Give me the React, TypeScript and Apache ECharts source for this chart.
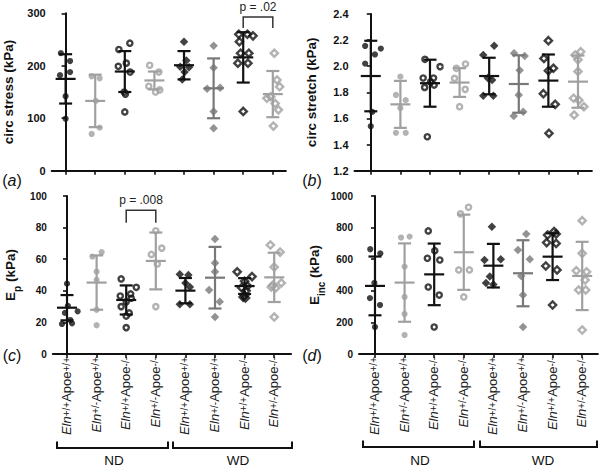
import React, { useEffect, useRef } from "react";
import * as echarts from "echarts";

const FONT = "'Liberation Sans', Arial, Helvetica, sans-serif";
const BLACK = "#111111";
const LIGHT = "#a0a0a0";
const DARK = "#787878";

// ---- categories ----
const elnGenotypes = ["+/+", "+/-", "+/+", "+/-", "+/+", "+/-", "+/+", "+/-"];
const apoeGenotypes = ["+/+", "+/+", "-/-", "-/-", "+/+", "+/+", "-/-", "-/-"];
const diets = ["ND", "WD"];

// ---- (a) circumferential stress, kPa ---- points are [value, horizontal jitter]
const stressMean = [175, 133, 189, 172, 201, 157, 216, 146];
const stressSD = [47, 50, 39, 17, 27, 57, 48, 44];
const stressPoints = [
  [[224, -0.16], [209, 0.15], [188, 0.15], [182, -0.19], [142, 0], [99, 0]],
  [[180, -0.12], [176, 0.15], [133, 0.02], [82, 0.15], [70, -0.12]],
  [[243, 0.17], [231, -0.2], [205, 0.05], [199, -0.22], [188, 0.18], [150, -0.02], [146, 0.02], [112, 0]],
  [[201, -0.16], [188, 0.15], [161, -0.19], [154, 0.18], [150, 0.04]],
  [[246, 0], [210, 0.08], [198, -0.13], [197, 0.17], [188, 0.02], [174, -0.06]],
  [[238, 0], [196, 0], [158, 0.22], [156, -0.22], [113, 0], [81, 0]],
  [[260, -0.15], [260, 0.14], [257, 0.33], [246, -0.13], [224, -0.09], [224, 0.19], [205, -0.18], [205, 0.16], [113, 0]],
  [[224, 0.05], [173, 0.14], [160, 0.23], [141, -0.07], [138, -0.2], [128, 0.08], [116, 0.19], [85, 0.02]],
];
const stressAxis = { min: 0, max: 300, interval: 100 };
const stressSig = { from: 6, to: 7, top: 293, drop: 272, label: "p = .02" };

// ---- (b) circumferential stretch ----
const stretchMean = [1.925, 1.708, 1.87, 1.875, 1.925, 1.864, 1.89, 1.882];
const stretchSD = [0.27, 0.18, 0.18, 0.11, 0.14, 0.22, 0.2, 0.2];
const stretchPoints = [
  [[2.155, -0.19], [2.135, 0.34], [2.09, 0.14], [2.02, -0.19], [1.65, 0.05], [1.54, 0]],
  [[1.92, 0], [1.78, -0.15], [1.74, 0.18], [1.68, 0], [1.49, -0.15], [1.49, 0.18]],
  [[2.053, -0.17], [1.997, 0.34], [1.91, -0.23], [1.91, 0.12], [1.88, 0.02], [1.856, 0.14], [1.838, -0.18], [1.46, -0.09]],
  [[2.017, 0.2], [1.984, -0.11], [1.907, -0.17], [1.823, 0.19], [1.69, 0]],
  [[2.157, 0.17], [2.086, -0.2], [1.91, -0.05], [1.894, 0.1], [1.774, -0.2], [1.774, 0.14]],
  [[2.099, -0.16], [2.078, 0.2], [1.97, 0.03], [1.78, 0], [1.652, 0.15], [1.619, -0.17]],
  [[2.196, 0], [2.06, -0.15], [1.984, 0.17], [1.966, 0], [1.79, -0.17], [1.708, 0.23], [1.486, 0.02]],
  [[2.111, 0.09], [2.086, -0.1], [2.05, 0], [1.96, 0], [1.755, -0.15], [1.74, 0.03], [1.69, 0.2], [1.626, -0.13]],
];
const stretchAxis = { min: 1.2, max: 2.4, interval: 0.2 };

// ---- (c) Ep, kPa ----
const epMean = [29.3, 45.2, 34.2, 58.9, 40.1, 48.3, 43, 48.5];
const epSD = [8, 17.2, 9.2, 18, 8, 19.5, 5, 15.6];
const epPoints = [
  [[44.5, 0], [30.5, 0.03], [27, 0.36], [26, -0.07], [21.5, 0.11], [19.4, 0.17], [19, -0.17]],
  [[64.4, 0.17], [61.6, -0.14], [52.1, 0], [46.9, 0], [28, 0], [18.2, 0]],
  [[47.5, -0.17], [42.2, 0.34], [38, 0.15], [36.7, -0.2], [35.3, 0.17], [33, 0], [30, -0.17], [26, 0.1], [24, 0], [16.7, 0]],
  [[78, 0], [67, 0.2], [63, -0.15], [57, 0.05], [30, 0]],
  [[50.5, -0.19], [50, 0.1], [45, 0], [42.4, 0.15], [31.5, -0.19], [31.5, 0.15]],
  [[72.8, 0], [57.6, 0], [52, 0], [40.5, -0.2], [33, 0.16], [23.4, 0]],
  [[52, -0.25], [49, 0.25], [46, 0], [43, 0.1], [42, -0.1], [40, 0.05], [37, 0], [36, -0.05], [35.5, 0.03]],
  [[69, -0.13], [64.5, 0.2], [55, 0], [45, 0.24], [43.5, -0.05], [42.4, -0.1], [41.8, 0.05], [23.4, 0]],
];
const epAxis = { min: 0, max: 100, interval: 20 };
const epSig = { from: 2, to: 3, top: 91, drop: 83, label: "p = .008" };

// ---- (d) Einc, kPa ----
const eincMean = [431, 452, 504, 644, 559, 511, 616, 494];
const eincSD = [186, 248, 195, 238, 138, 209, 148, 216];
const eincPoints = [
  [[663, -0.16], [637, 0.18], [449, -0.02], [354, -0.17], [310, 0.17], [171, 0]],
  [[743, 0.17], [737, -0.12], [553, 0], [361, 0], [253, 0], [120, 0]],
  [[779, -0.2], [654, 0.02], [606, -0.23], [595, 0.19], [424, -0.2], [373, 0.17], [171, 0]],
  [[929, 0.16], [887, -0.11], [532, -0.17], [532, 0.19], [361, 0]],
  [[806, -0.05], [600, 0.25], [595, -0.3], [490, -0.12], [449, -0.25], [440, 0]],
  [[760, 0.11], [659, -0.17], [600, 0.23], [494, -0.06], [373, 0], [171, 0]],
  [[775, 0.05], [760, 0.12], [753, -0.17], [705, -0.2], [700, 0.12], [557, -0.23], [532, 0.15], [310, 0]],
  [[844, 0], [637, 0], [527, -0.2], [520, 0.15], [468, 0.1], [405, -0.12], [405, 0.12], [152, 0]],
];
const eincAxis = { min: 0, max: 1000, interval: 200 };

// ---- styles (not data) ----
const markerStyles = [
  { symbol: "circle", filled: true, color: BLACK },
  { symbol: "circle", filled: true, color: LIGHT },
  { symbol: "circle", filled: false, color: BLACK },
  { symbol: "circle", filled: false, color: LIGHT },
  { symbol: "diamond", filled: true, color: BLACK },
  { symbol: "diamond", filled: true, color: DARK },
  { symbol: "diamond", filled: false, color: BLACK },
  { symbol: "diamond", filled: false, color: LIGHT },
];

const SPACING = 29.6;

const panels = [
  { letter: "a", left: 51.7, top: 13.3, height: 157.4, xMin: -0.47, xMax: 7.44, axis: stressAxis, mean: stressMean, sd: stressSD, pts: stressPoints, name: "{b|circ stress (kPa)}", nameGap: 37, labelSize: 11, xLabels: false, decimals: 0, sig: stressSig },
  { letter: "b", left: 354.5, top: 14, height: 156.7, xMin: -0.55, xMax: 7.47, axis: stretchAxis, mean: stretchMean, sd: stretchSD, pts: stretchPoints, name: "{b|circ stretch (kPa)}", nameGap: 37, labelSize: 11, xLabels: false, decimals: 1, sig: null },
  { letter: "c", left: 52.8, top: 196, height: 158, xMin: -0.48, xMax: 7.57, axis: epAxis, mean: epMean, sd: epSD, pts: epPoints, name: "{b|E}{sub|p}{b| (kPa)}", nameGap: 30, labelSize: 10, xLabels: true, decimals: 0, sig: epSig },
  { letter: "d", left: 359, top: 196, height: 158, xMin: -0.54, xMax: 7.53, axis: eincAxis, mean: eincMean, sd: eincSD, pts: eincPoints, name: "{b|E}{sub|inc}{b| (kPa)}", nameGap: 30, labelSize: 10, xLabels: true, decimals: 0, sig: null },
];

const xLabel = (i: number) =>
  `{it|Eln}{sup|${elnGenotypes[i]}}{n|Apoe}{sup|${apoeGenotypes[i]}}`;

function buildOption() {
  const grid: any[] = [];
  const xAxis: any[] = [];
  const yAxis: any[] = [];
  const series: any[] = [];
  const groupIdx = elnGenotypes.map((_, i) => i);

  panels.forEach((p, pi) => {
    grid.push({
      left: p.left,
      top: p.top,
      width: (p.xMax - p.xMin) * SPACING,
      height: p.height,
      containLabel: false,
      outerBoundsMode: "none",
    });
    xAxis.push({
      type: "value",
      gridIndex: pi,
      min: p.xMin,
      max: p.xMax,
      axisLine: { show: true, onZero: false, lineStyle: { color: BLACK, width: 2 } },
      axisTick: { show: true, customValues: groupIdx, length: 4, lineStyle: { color: BLACK, width: 1.6 } },
      axisLabel: p.xLabels
        ? {
            show: true,
            customValues: groupIdx,
            rotate: 90,
            margin: 3,
            color: "#222",
            fontFamily: FONT,
            formatter: (v: number) => xLabel(Math.round(v)),
            rich: {
              it: { fontStyle: "italic", fontSize: 13, fontFamily: FONT, lineHeight: 12, verticalAlign: "bottom", color: "#222" },
              n: { fontSize: 13, fontFamily: FONT, lineHeight: 12, verticalAlign: "bottom", color: "#222" },
              sup: { fontSize: 10, fontFamily: FONT, lineHeight: 10, padding: [0, 0, 5, 0], verticalAlign: "top", color: "#222" },
            },
          }
        : { show: false },
      splitLine: { show: false },
    });
    yAxis.push({
      type: "value",
      gridIndex: pi,
      min: p.axis.min,
      max: p.axis.max,
      interval: p.axis.interval,
      name: p.name,
      nameLocation: "middle",
      nameRotate: 90,
      nameGap: p.nameGap,
      nameTextStyle: {
        rich: {
          b: { fontSize: 13.5, fontWeight: "bold", fontFamily: FONT, color: BLACK, lineHeight: 13, verticalAlign: "top" },
          sub: { fontSize: 10, fontWeight: "bold", fontFamily: FONT, color: BLACK, lineHeight: 19, verticalAlign: "bottom" },
        },
      },
      axisLine: { show: true, lineStyle: { color: BLACK, width: 2 } },
      axisTick: { show: true, length: 4, lineStyle: { color: BLACK, width: 1.6 } },
      axisLabel: {
        margin: 6,
        fontSize: p.labelSize,
        fontWeight: "bold",
        fontFamily: FONT,
        color: BLACK,
        formatter: (v: number) => v.toFixed(p.decimals),
      },
      splitLine: { show: false },
    });

    // data points
    p.pts.forEach((grp, g) => {
      const ms = markerStyles[g];
      const isDiamond = ms.symbol === "diamond";
      series.push({
        type: "scatter",
        xAxisIndex: pi,
        yAxisIndex: pi,
        silent: true,
        clip: false,
        z: 3,
        symbol: ms.symbol,
        symbolSize: ms.filled ? (isDiamond ? 8.5 : 6.2) : isDiamond ? 7.2 : 5.2,
        itemStyle: ms.filled
          ? { color: ms.color }
          : { color: "rgba(255,255,255,0)", borderColor: ms.color, borderWidth: 2.4 },
        data: grp.map(([v, o]) => [g + o, v]),
      });
    });

    // mean +/- SD
    series.push({
      type: "custom",
      xAxisIndex: pi,
      yAxisIndex: pi,
      silent: true,
      clip: false,
      z: 4,
      encode: { x: 0, y: 1 },
      data: p.mean.map((m, g) => [g, m, p.sd[g]]),
      renderItem: (params: any, api: any) => {
        const g = api.value(0);
        const m = api.value(1);
        const s = api.value(2);
        const c = api.coord([g, m]);
        const t = api.coord([g, m + s]);
        const b = api.coord([g, m - s]);
        const style = { stroke: markerStyles[g].color, lineWidth: 2.2, fill: null };
        return {
          type: "group",
          children: [
            { type: "line", shape: { x1: c[0], y1: t[1], x2: c[0], y2: b[1] }, style },
            { type: "line", shape: { x1: c[0] - 6.5, y1: t[1], x2: c[0] + 6.5, y2: t[1] }, style },
            { type: "line", shape: { x1: c[0] - 6.5, y1: b[1], x2: c[0] + 6.5, y2: b[1] }, style },
            { type: "line", shape: { x1: c[0] - 10, y1: c[1], x2: c[0] + 10, y2: c[1] }, style },
          ],
        };
      },
    });

    if (p.sig) {
      const sig = p.sig;
      series.push({
        type: "custom",
        xAxisIndex: pi,
        yAxisIndex: pi,
        silent: true,
        clip: false,
        z: 5,
        encode: { x: 0, y: 2 },
        data: [[sig.from, sig.to, sig.top, sig.drop]],
        renderItem: (params: any, api: any) => {
          const a1 = api.coord([api.value(0), api.value(3)]);
          const a2 = api.coord([api.value(0), api.value(2)]);
          const b2 = api.coord([api.value(1), api.value(2)]);
          const b1 = api.coord([api.value(1), api.value(3)]);
          return {
            type: "group",
            children: [
              {
                type: "polyline",
                shape: { points: [a1, a2, b2, b1] },
                style: { stroke: "#333", lineWidth: 1.5, fill: null },
              },
              {
                type: "text",
                x: (a2[0] + b2[0]) / 2,
                y: a2[1] - 10,
                style: {
                  text: sig.label,
                  fontSize: 12,
                  fontFamily: FONT,
                  fill: "#222",
                  align: "center",
                  verticalAlign: "middle",
                },
              },
            ],
          };
        },
      });
    }
  });

  const letterPos = [
    [12, 180],
    [312, 180],
    [12, 355],
    [312, 355],
  ];
  const graphic: any[] = panels.map((p, i) => ({
    type: "text",
    x: letterPos[i][0],
    y: letterPos[i][1],
    style: {
      text: `({i|${p.letter}})`,
      fontSize: 16,
      fontFamily: FONT,
      fill: BLACK,
      align: "center",
      verticalAlign: "middle",
      rich: { i: { fontStyle: "italic", fontSize: 16, fontFamily: FONT, fill: BLACK } },
    },
  }));

  const brackets = [
    { x1: 57, x2: 168, y: 448, tx: 114, label: diets[0] },
    { x1: 173, x2: 292, y: 448, tx: 238, label: diets[1] },
    { x1: 363, x2: 474, y: 447, tx: 420, label: diets[0] },
    { x1: 480, x2: 597, y: 447, tx: 543, label: diets[1] },
  ];
  brackets.forEach((b) => {
    graphic.push({
      type: "polyline",
      shape: { points: [[b.x1, b.y - 6.5], [b.x1, b.y], [b.x2, b.y], [b.x2, b.y - 6.5]] },
      style: { stroke: BLACK, lineWidth: 2, fill: null },
    });
    graphic.push({
      type: "text",
      x: b.tx,
      y: 460,
      style: { text: b.label, fontSize: 13.5, fontFamily: FONT, fill: BLACK, align: "center", verticalAlign: "middle" },
    });
  });

  return {
    animation: false,
    backgroundColor: "#ffffff",
    grid,
    xAxis,
    yAxis,
    series,
    graphic,
  };
}

export default function App() {
  const ref = useRef<HTMLDivElement>(null);
  useEffect(() => {
    if (!ref.current) return;
    const chart = echarts.init(ref.current, undefined, { renderer: "svg" });
    chart.setOption(buildOption() as any);
    return () => chart.dispose();
  }, []);
  return (
    <div
      ref={ref}
      style={{ position: "fixed", left: 0, top: 0, width: 600, height: 468, background: "#fff" }}
    />
  );
}
